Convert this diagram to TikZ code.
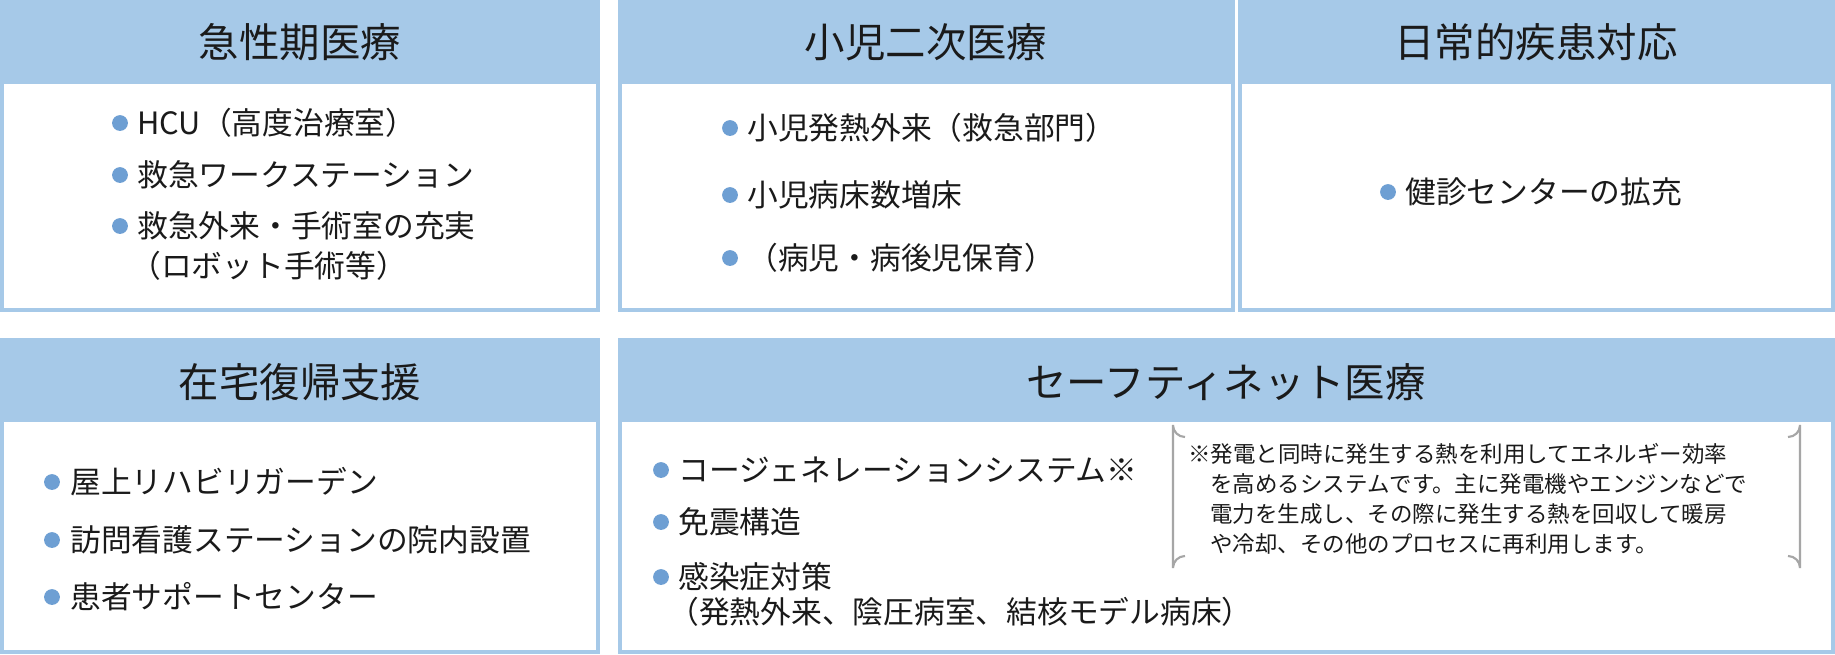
\documentclass[tikz,border=0pt]{standalone}
\usepackage{fontspec}
\setmainfont{Noto Sans CJK JP}
\begin{document}
\begin{tikzpicture}[x=0.02cm,y=-0.02cm]
\definecolor{hdr}{HTML}{A6C9E8}
\definecolor{bdr}{HTML}{A6C9E8}
\definecolor{bul}{HTML}{6E9FD3}
\definecolor{txt}{HTML}{1A1A1A}
\tikzset{
 panel/.style={draw=bdr,line width=2pt,fill=white},
 head/.style={fill=hdr,draw=bdr,line width=2pt},
 htext/.style={font=\fontsize{23pt}{27pt}\selectfont,text=txt},
 btext/.style={font=\fontsize{17.5pt}{21pt}\selectfont,text=txt,anchor=west,inner sep=0pt},
 ntext/.style={font=\fontsize{12.8pt}{16pt}\selectfont,text=txt,anchor=west,inner sep=0pt},
 dot/.style={circle,fill=bul,inner sep=0pt,minimum size=9pt}
}
\useasboundingbox (0,0) rectangle (1835,654);
\foreach \a/\b/\c/\d/\h in {2/2/598/310/82, 620/2/1233/310/82, 1240/2/1833/310/82, 2/340/598/652/420, 620/340/1833/652/420}{
 \draw[panel] (\a,\b) rectangle (\c,\d);
 \draw[head] (\a,\b) rectangle (\c,\h);
}
\node[htext] (h1) at (300,42) {急性期医療};
\node[htext] (h2) at (926,42) {小児二次医療};
\node[htext] (h3) at (1536,42) {日常的疾患対応};
\node[htext] (h4) at (300,382) {在宅復帰支援};
\node[htext] (h5) at (1226,382) {セーフティネット医療};
% box1
\foreach \y/\t [count=\i] in {123/HCU（高度治療室）,175/救急ワークステーション,226/救急外来・手術室の充実}{
 \node[dot] (b1d\i) at (120,\y) {};
 \node[btext] (b1t\i) at (137,\y) {\t};
}
\node[btext] (b1c) at (130,266) {（ロボット手術等）};
% box2
\foreach \y/\t [count=\i] in {128/小児発熱外来（救急部門）,195/小児病床数増床,258/（病児・病後児保育）}{
 \node[dot] (b2d\i) at (730,\y) {};
 \node[btext] (b2t\i) at (747,\y) {\t};
}
% box3
\node[dot] (b3d) at (1388,192) {};
\node[btext] (b3t) at (1405,192) {健診センターの拡充};
% box4
\foreach \y/\t [count=\i] in {482/屋上リハビリガーデン,540/訪問看護ステーションの院内設置,597/患者サポートセンター}{
 \node[dot] (b4d\i) at (52,\y) {};
 \node[btext] (b4t\i) at (70,\y) {\t};
}
% box5
\foreach \y/\t [count=\i] in {470/コージェネレーションシステム※,522/免震構造,577/感染症対策}{
 \node[dot] (b5d\i) at (661,\y) {};
 \node[btext] (b5t\i) at (678,\y) {\t};
}
\node[btext] (b5c) at (668,612) {（発熱外来、陰圧病室、結核モデル病床）};
% note brackets
\draw[gray!70,line width=1.2pt] (1185,437) arc[start angle=90,end angle=180,radius=12] -- (1173,568) arc[start angle=180,end angle=270,radius=12];
\draw[gray!70,line width=1.2pt] (1788,437) arc[start angle=90,end angle=0,radius=12] -- (1800,568) arc[start angle=0,end angle=-90,radius=12];
\node[ntext] (n1) at (1188,454) {※発電と同時に発生する熱を利用してエネルギー効率};
\node[ntext] (n2) at (1210,484) {を高めるシステムです。主に発電機やエンジンなどで};
\node[ntext] (n3) at (1210,514) {電力を生成し、その際に発生する熱を回収して暖房};
\node[ntext] (n4) at (1210,544) {や冷却、その他のプロセスに再利用します。};
\end{tikzpicture}
\end{document}
